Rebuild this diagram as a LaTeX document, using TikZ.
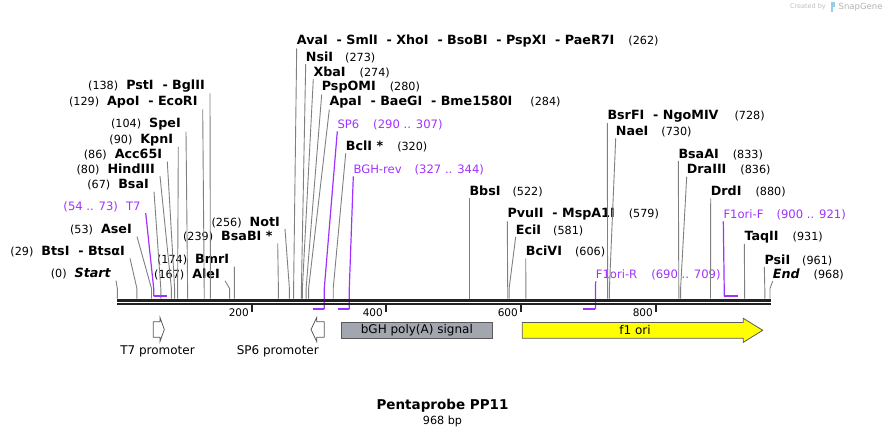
\documentclass[tikz,border=0pt]{standalone}
\usepackage{fontspec}
\setmainfont{DejaVu Sans}

\definecolor{primercol}{RGB}{160,50,255}
\definecolor{cutgray}{RGB}{128,128,128}
\definecolor{bbdark}{RGB}{34,34,34}
\definecolor{bghgray}{RGB}{162,166,174}
\definecolor{oriyellow}{RGB}{255,255,0}
\definecolor{featline}{RGB}{90,90,90}
\definecolor{logoblue}{RGB}{150,205,235}

\newcommand{\enz}[1]{{\fontsize{12.7}{14}\selectfont\bfseries #1}}

\begin{document}
\begin{tikzpicture}[x=1pt, y=-1pt]
	\tikzset{
		every node/.style={
			font=\fontsize{11.2}{13}\selectfont,
			inner ysep=1pt
		},
		lsite/.style={
			anchor=east,
			inner xsep=5pt
		},
		rsite/.style={
			anchor=west,
			inner xsep=0pt
		},
		primer/.style={
			text=primercol,
			font=\fontsize{11.6}{13}\selectfont
		},
		flabel/.style={
			font=\fontsize{12}{14}\selectfont
		},
		cut/.style={
			draw=cutgray,
			line width=0.9pt
		},
		pline/.style={
			draw=primercol,
			line width=1.2pt
		},
		pbar/.style={
			draw=primercol,
			line width=2pt
		},
		backbone/.style={
			draw=bbdark,
			line width=2.3pt
		},
		tick/.style={
			draw=bbdark,
			line width=1.6pt
		},
		feat/.style={
			draw=featline,
			line width=0.8pt
		}
	}
	\useasboundingbox (0,0) rectangle (888,438);

	% cut sites on the backbone
	\coordinate (s0) at (117.3,298.5);
	\coordinate (s29) at (136.9,298.5);
	\coordinate (s53) at (151.5,298.5);
	\coordinate (s67) at (160.8,298.5);
	\coordinate (s80) at (171.4,298.5);
	\coordinate (s86) at (174.6,298.5);
	\coordinate (s90) at (177.6,298.5);
	\coordinate (s104) at (187.6,298.5);
	\coordinate (s129) at (204.2,298.5);
	\coordinate (s138) at (210.4,298.5);
	\coordinate (s167) at (229.6,298.5);
	\coordinate (s174) at (234.4,298.5);
	\coordinate (s239) at (278.4,298.5);
	\coordinate (s256) at (289.4,298.5);
	\coordinate (s262) at (293.6,298.5);
	\coordinate (s273) at (301.4,298.5);
	\coordinate (s274) at (302.4,298.5);
	\coordinate (s280) at (306.1,298.5);
	\coordinate (s284) at (308.6,298.5);
	\coordinate (s320) at (333.2,298.5);
	\coordinate (s522) at (469.3,298.5);
	\coordinate (s579) at (507.7,298.5);
	\coordinate (s581) at (509.1,298.5);
	\coordinate (s606) at (525.9,298.5);
	\coordinate (s728) at (607.6,298.5);
	\coordinate (s730) at (609.4,298.5);
	\coordinate (s833) at (678.8,298.5);
	\coordinate (s836) at (680.6,298.5);
	\coordinate (s880) at (710.5,298.5);
	\coordinate (s931) at (744.6,298.5);
	\coordinate (s961) at (764.8,298.5);
	\coordinate (s968) at (770.0,298.5);

	% primer ends
	\coordinate (t7s) at (153.7,296.3);
	\coordinate (t7e) at (166.5,296.3);
	\coordinate (sp6s) at (312.9,309.3);
	\coordinate (sp6e) at (324.3,309.3);
	\coordinate (bghs) at (337.8,309.3);
	\coordinate (bghe) at (349.3,309.3);
	\coordinate (f1rs) at (582.6,309.3);
	\coordinate (f1re) at (595.4,309.3);
	\coordinate (f1fs) at (724.2,296.3);
	\coordinate (f1fe) at (738.3,296.3);

	% labels left of their lines
	\node[lsite] (start) at (116,274)
		{(0)\hspace{8pt}\enz{\itshape Start}};
	\node[lsite] (btsi) at (130,251.7)
		{(29)\hspace{8pt}\enz{BtsI\ \ - BtsαI}};
	\node[lsite] (asei) at (137,230)
		{(53)\hspace{8pt}\enz{AseI}};
	\node[lsite, primer] (t7) at (145.7,206.7)
		{(54 .. 73)\hspace{8pt}T7};
	\node[lsite] (bsai) at (154,185)
		{(67)\hspace{8pt}\enz{BsaI}};
	\node[lsite] (hindiii) at (160,169.3)
		{(80)\hspace{8pt}\enz{HindIII}};
	\node[lsite] (acc65i) at (167.3,155)
		{(86)\hspace{8pt}\enz{Acc65I}};
	\node[lsite] (kpni) at (178.3,140)
		{(90)\hspace{8pt}\enz{KpnI}};
	\node[lsite] (spei) at (186,124.3)
		{(104)\hspace{8pt}\enz{SpeI}};
	\node[lsite] (apoi) at (202.7,102.3)
		{(129)\hspace{8pt}\enz{ApoI\ \ - EcoRI}};
	\node[lsite] (psti) at (210,86)
		{(138)\hspace{8pt}\enz{PstI\ \ - BglII}};
	\node[lsite] (alei) at (225,274)
		{(167)\hspace{8pt}\enz{AleI}};
	\node[lsite] (bmri) at (234.3,260)
		{(174)\hspace{8pt}\enz{BmrI}};
	\node[lsite] (bsabi) at (277.7,236.7)
		{(239)\hspace{8pt}\enz{BsaBI *}};
	\node[lsite] (noti) at (285,222.3)
		{(256)\hspace{8pt}\enz{NotI}};

	% labels right of their lines
	\node[rsite] (avai) at (296.7,41)
		{\enz{AvaI\ \ - SmlI\ \ - XhoI\ \ - BsoBI\ \ - PspXI\ \ - PaeR7I}\hspace{14pt}(262)};
	\node[rsite] (nsii) at (305.7,57.3)
		{\enz{NsiI}\hspace{12pt}(273)};
	\node[rsite] (xbai) at (313.3,72.3)
		{\enz{XbaI}\hspace{14pt}(274)};
	\node[rsite] (pspomi) at (321.7,87.3)
		{\enz{PspOMI}\hspace{14pt}(280)};
	\node[rsite] (apai) at (329.3,102.3)
		{\enz{ApaI\ \ - BaeGI\ \ - Bme1580I}\hspace{18pt}(284)};
	\node[rsite, primer] (sp6) at (337.3,125)
		{SP6\hspace{14pt}(290 .. 307)};
	\node[rsite] (bcli) at (345.7,146.7)
		{\enz{BclI *}\hspace{14pt}(320)};
	\node[rsite, primer] (bghrev) at (353.3,170)
		{BGH-rev\hspace{13pt}(327 .. 344)};
	\node[rsite] (bbsi) at (469.3,191.7)
		{\enz{BbsI}\hspace{12pt}(522)};
	\node[rsite] (pvuii) at (507.3,214.3)
		{\enz{PvuII\ \ - MspA1I}\hspace{14pt}(579)};
	\node[rsite] (ecii) at (515.7,230)
		{\enz{EciI}\hspace{12pt}(581)};
	\node[rsite] (bcivi) at (525.7,251.7)
		{\enz{BciVI}\hspace{13pt}(606)};
	\node[rsite, primer] (f1orir) at (595.7,275)
		{F1ori-R\hspace{14pt}(690 .. 709)};
	\node[rsite] (bsrfi) at (607.3,116)
		{\enz{BsrFI\ \ - NgoMIV}\hspace{16pt}(728)};
	\node[rsite] (naei) at (615.7,131.7)
		{\enz{NaeI}\hspace{13pt}(730)};
	\node[rsite] (bsaai) at (678.3,154.3)
		{\enz{BsaAI}\hspace{14pt}(833)};
	\node[rsite] (draiii) at (686.7,170)
		{\enz{DraIII}\hspace{14pt}(836)};
	\node[rsite] (drdi) at (710.7,191.7)
		{\enz{DrdI}\hspace{14pt}(880)};
	\node[rsite, primer] (f1orif) at (723.3,215)
		{F1ori-F\hspace{13pt}(900 .. 921)};
	\node[rsite] (taqii) at (744.3,236.7)
		{\enz{TaqII}\hspace{14pt}(931)};
	\node[rsite] (psii) at (764.3,260)
		{\enz{PsiI}\hspace{12pt}(961)};
	\node[rsite] (endlbl) at (772.7,274.3)
		{\enz{\itshape End}\hspace{14pt}(968)};

	% lines from labels down to the sites
	\draw[cut] (start.south east) -- ([yshift=10pt]s0) -- (s0);
	\draw[cut] (btsi.south east) -- ([yshift=10pt]s29) -- (s29);
	\draw[cut] (asei.south east) -- ([yshift=10pt]s53) -- (s53);
	\draw[cut] (bsai.south east) -- ([yshift=10pt]s67) -- (s67);
	\draw[cut] (hindiii.south east) -- ([yshift=10pt]s80) -- (s80);
	\draw[cut] (acc65i.south east) -- ([yshift=10pt]s86) -- (s86);
	\draw[cut] (kpni.south east) -- ([yshift=10pt]s90) -- (s90);
	\draw[cut] (spei.south east) -- ([yshift=10pt]s104) -- (s104);
	\draw[cut] (apoi.south east) -- ([yshift=10pt]s129) -- (s129);
	\draw[cut] (psti.south east) -- ([yshift=10pt]s138) -- (s138);
	\draw[cut] (alei.south east) -- ([yshift=10pt]s167) -- (s167);
	\draw[cut] (bmri.south east) -- ([yshift=10pt]s174) -- (s174);
	\draw[cut] (bsabi.south east) -- ([yshift=10pt]s239) -- (s239);
	\draw[cut] (noti.south east) -- ([yshift=10pt]s256) -- (s256);

	\draw[cut] (avai.south west) -- ([yshift=10pt]s262) -- (s262);
	\draw[cut] (nsii.south west) -- ([yshift=10pt]s273) -- (s273);
	\draw[cut] (xbai.south west) -- ([yshift=10pt]s274) -- (s274);
	\draw[cut] (pspomi.south west) -- ([yshift=10pt]s280) -- (s280);
	\draw[cut] (apai.south west) -- ([yshift=10pt]s284) -- (s284);
	\draw[cut] (bcli.south west) -- ([yshift=10pt]s320) -- (s320);
	\draw[cut] (bbsi.south west) -- ([yshift=10pt]s522) -- (s522);
	\draw[cut] (pvuii.south west) -- ([yshift=10pt]s579) -- (s579);
	\draw[cut] (ecii.south west) -- ([yshift=10pt]s581) -- (s581);
	\draw[cut] (bcivi.south west) -- ([yshift=10pt]s606) -- (s606);
	\draw[cut] (bsrfi.south west) -- ([yshift=10pt]s728) -- (s728);
	\draw[cut] (naei.south west) -- ([yshift=10pt]s730) -- (s730);
	\draw[cut] (bsaai.south west) -- ([yshift=10pt]s833) -- (s833);
	\draw[cut] (draiii.south west) -- ([yshift=10pt]s836) -- (s836);
	\draw[cut] (drdi.south west) -- ([yshift=10pt]s880) -- (s880);
	\draw[cut] (taqii.south west) -- ([yshift=10pt]s931) -- (s931);
	\draw[cut] (psii.south west) -- ([yshift=10pt]s961) -- (s961);
	\draw[cut] (endlbl.south west) -- ([yshift=10pt]s968) -- (s968);

	% primers
	\draw[pline] (t7.south east) -- ([yshift=8pt]t7s) -- (t7s);
	\draw[pbar] (t7s) -- (t7e);
	\draw[pline] (f1orif.south west) -- ([yshift=8pt]f1fs) -- (f1fs);
	\draw[pbar] (f1fs) -- (f1fe);
	\draw[pline] (sp6.south west) -- ([yshift=21pt]sp6e) -- (sp6e);
	\draw[pbar] (sp6s) -- (sp6e);
	\draw[pline] (bghrev.south west) -- ([yshift=21pt]bghe) -- (bghe);
	\draw[pbar] (bghs) -- (bghe);
	\draw[pline] (f1orir.south west) -- ([yshift=21pt]f1re) -- (f1re);
	\draw[pbar] (f1rs) -- (f1re);

	% backbone and ruler
	\draw[backbone] (117.3,300.4) -- (770.7,300.4);
	\draw[backbone] (117.3,304.2) -- (770.7,304.2);
	\draw[tick] (251.7,305) -- (251.7,311.7);
	\draw[tick] (385.7,305) -- (385.7,311.7);
	\draw[tick] (520.7,305) -- (520.7,311.7);
	\draw[tick] (655.7,305) -- (655.7,311.7);
	\node[anchor=east, inner sep=0pt, font=\fontsize{10.5}{12}\selectfont] (n200) at (249,312.3) {200};
	\node[anchor=east, inner sep=0pt, font=\fontsize{10.5}{12}\selectfont] (n400) at (383,312.3) {400};
	\node[anchor=east, inner sep=0pt, font=\fontsize{10.5}{12}\selectfont] (n600) at (518,312.3) {600};
	\node[anchor=east, inner sep=0pt, font=\fontsize{10.5}{12}\selectfont] (n800) at (653,312.3) {800};

	% features
	\draw[feat, fill=white] (153.3,321.7) -- (160,321.7) -- (160,317.5) -- (164.3,329.5)
		-- (160,341.5) -- (160,337.3) -- (153.3,337.3) -- cycle;
	\node[flabel] (t7prom) at (157.5,351) {T7 promoter};
	\draw[feat, fill=white] (324.3,321.7) -- (316.7,321.7) -- (316.7,317.5) -- (311,329.5)
		-- (316.7,341.5) -- (316.7,337.3) -- (324.3,337.3) -- cycle;
	\node[flabel] (sp6prom) at (277.8,351) {SP6 promoter};
	\node[flabel, feat, fill=bghgray, minimum width=151.7pt, minimum height=16pt, inner sep=0pt]
		(bgh) at (416.85,330.3) {bGH poly(A) signal};
	\draw[feat, fill=oriyellow] (522.3,322.5) -- (743.3,322.5) -- (743.3,318.3) -- (762.7,330.3)
		-- (743.3,342.3) -- (743.3,338.3) -- (522.3,338.3) -- cycle;
	\node[flabel] (f1ori) at (635,330.3) {f1 ori};

	% title
	\node[font=\fontsize{13.5}{15}\selectfont\bfseries] (title) at (442.5,406) {Pentaprobe PP11};
	\node (size) at (442.5,421.5) {968 bp};

	% credit
	\node[anchor=east, inner sep=0pt, text=gray!50, font=\fontsize{6.5}{7}\selectfont] (credit) at (826,7) {Created by};
	\fill[logoblue] (830.5,2.5) rectangle (832.8,12);
	\fill[logoblue] (832.8,2.5) rectangle (835,7.5);
	\node[anchor=west, inner sep=0pt, text=gray!60, font=\fontsize{8.5}{9}\selectfont] (snapgene) at (838.5,7) {SnapGene};
\end{tikzpicture}
\end{document}
